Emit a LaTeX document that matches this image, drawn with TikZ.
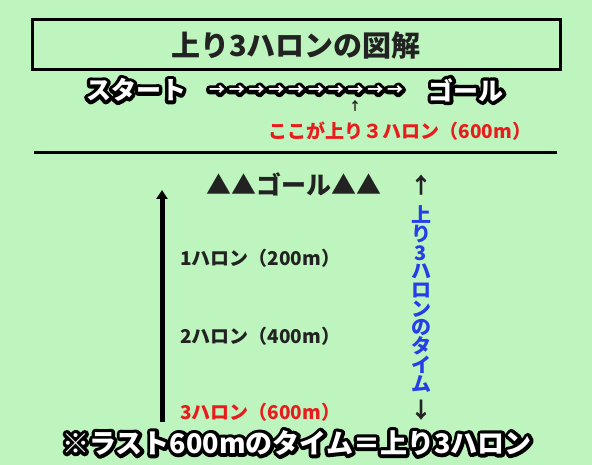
\documentclass[tikz,border=0pt]{standalone}
\usepackage{fontspec}
\usepackage{xcolor}
\usetikzlibrary{arrows.meta, positioning}
\newfontfamily\jpfont{Noto Sans CJK JP}
\newfontfamily\jpheavy{Noto Sans CJK JP Black}
\definecolor{bggreen}{RGB}{190,245,190}
\definecolor{textred}{RGB}{232,28,28}
\definecolor{textblue}{RGB}{38,62,232}
\definecolor{textdark}{RGB}{34,34,34}
% white letters with a black rim (wide stroke below, fill on top)
\newcommand\rimtext[1]{\rlap{\special{pdf:literal direct 0 0 0 RG 7 w 1 j 1 Tr}#1\special{pdf:literal direct 0 Tr 1 w}}#1}
\tikzset{
  jp/.style={font=\jpfont\bfseries\fontsize{#1}{#1}\selectfont, inner sep=0pt},
  heavy/.style={font=\jpheavy\fontsize{#1}{#1}\selectfont, inner sep=0pt},
  outlined/.style={heavy=#1, text=white},
  plain/.style={jp=#1, text=textdark},
}

\begin{document}
\begin{tikzpicture}[x=1pt, y=-1pt]
% Background
\fill[bggreen] (0,0) rectangle (592,465);
\useasboundingbox (0,0) rectangle (592,465);

% Title box
\node[heavy=29, text=textdark, draw=black, line width=3pt, minimum width=528pt, minimum height=50pt] (title) at (296,45) {上り3ハロンの図解};

% Start -> Goal row
\node[outlined=25] (start) at (136,90) {\rimtext{スタート}};
\node[outlined=25] (goalA) at (466,90) {\rimtext{ゴール}};
\foreach \i in {0,...,9} {
    \node[outlined=16] (flow\i) at (217+19.8*\i,91) {\rimtext{→}};
}
\node[plain=12] (mark) at (355,106) {↑};
\node[jp=19, text=textred] (note) at (400,131) {ここが上り３ハロン（600m）};

% Separator
\draw[line width=3pt] (34,153) -- (557,153);

% Furlong scale
\coordinate (base) at (162,422);
\coordinate (tip) at (162,190);
\draw[line width=5pt, -{Triangle[length=9pt, width=11pt]}] (base) -- (tip);
\node[heavy=25, text=textdark] (goalB) at (294,184) {▲▲ゴール▲▲};
\node[plain=19, anchor=west] (f1) at (180,258) {1ハロン（200m）};
\node[plain=19, anchor=west] (f2) at (180,336) {2ハロン（400m）};
\node[jp=19, text=textred, anchor=west] (f3) at (180,412) {3ハロン（600m）};

% Last three furlongs span
\node[heavy=22, text=textdark] (up) at (421,185) {↑};
\node[text=textblue, align=center, inner sep=0pt, font=\jpheavy\fontsize{20}{18.7}\selectfont] (span) at (421,299) {上\\り\\3\\ハ\\ロ\\ン\\の\\タ\\イ\\ム};
\node[heavy=22, text=textdark] (down) at (421,410) {↓};

% Summary
\node[outlined=27] (summary) at (297,443) {\rimtext{※ラスト600mのタイム＝上り3ハロン}};
\end{tikzpicture}
\end{document}
